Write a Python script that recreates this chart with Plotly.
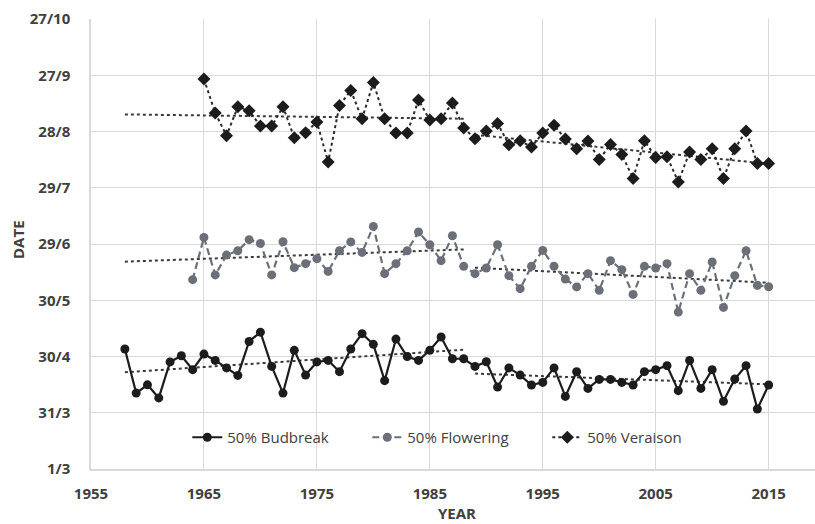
import numpy as np
import plotly.graph_objects as go

# Phenology dates expressed as day of year (1 Mar = 60)
budbreak_years = list(range(1958, 2016))
budbreak_doy = [
    124.0, 100.5, 104.9, 97.9, 117.1, 120.4, 113.0, 121.3, 117.9, 113.9,
    109.9, 128.0, 133.0, 114.7, 100.5, 123.3, 110.1, 117.1, 117.9, 111.9,
    124.0, 132.2, 126.5, 107.1, 129.3, 120.0, 117.9, 123.3, 130.4, 118.8,
    118.8, 114.7, 117.2, 103.7, 113.9, 110.1, 104.8, 106.2, 113.9, 98.7,
    111.9, 103.0, 107.8, 107.8, 106.2, 104.8, 111.9, 113.0, 115.1, 101.8,
    117.9, 103.0, 113.0, 96.1, 108.0, 115.1, 92.0, 104.8,
]

flowering_years = list(range(1964, 2016))
flowering_doy = [
    161.0, 183.5, 163.5, 174.1, 176.4, 182.3, 180.3, 163.5, 181.2, 167.4,
    169.5, 172.2, 165.4, 176.4, 181.1, 175.5, 189.4, 164.2, 169.5, 176.4,
    186.4, 179.6, 171.1, 184.4, 168.1, 164.2, 167.2, 179.6, 163.1, 156.2,
    168.1, 176.6, 168.1, 161.3, 157.1, 164.2, 155.3, 171.1, 166.3, 153.1,
    168.1, 167.2, 169.5, 143.7, 164.2, 155.3, 170.4, 146.2, 163.1, 176.4,
    157.9, 157.2,
]

veraison_years = list(range(1965, 2016))
veraison_doy = [
    268.0, 249.9, 237.8, 253.2, 251.1, 242.9, 242.9, 253.2, 236.7, 239.4,
    245.1, 223.7, 253.9, 261.9, 246.8, 266.2, 246.8, 239.2, 239.2, 256.8,
    246.1, 246.8, 255.2, 241.9, 236.2, 240.3, 244.3, 233.0, 235.1, 231.7,
    239.2, 243.3, 236.0, 230.8, 234.9, 225.1, 233.1, 227.8, 215.0, 235.1,
    226.2, 226.6, 213.1, 229.1, 225.1, 230.8, 215.0, 230.8, 240.3, 223.0,
    223.0,
]

# Two trend periods
period_1 = (1958, 1988)
period_2 = (1989, 2015)

tick_days = [60, 90, 120, 150, 180, 210, 240, 270, 300]
tick_labels = ["1/3", "31/3", "30/4", "30/5", "29/6", "29/7", "28/8", "27/9", "27/10"]
x_ticks = [1955, 1965, 1975, 1985, 1995, 2005, 2015]

FONT = "Open Sans"
TEXT = "#404040"
GRID = "#d9d9d9"
W, H = 815, 524
M_L, M_R, M_T, M_B = 91, 0, 19, 55

fig = go.Figure()


def add_trend(years, values, span):
    yrs = np.array(years, dtype=float)
    vals = np.array(values, dtype=float)
    lo, hi = span
    mask = (yrs >= lo) & (yrs <= hi)
    slope, intercept = np.polyfit(yrs[mask], vals[mask], 1)
    xs = np.array([lo, hi], dtype=float)
    fig.add_trace(go.Scatter(
        x=xs, y=slope * xs + intercept, mode="lines",
        line=dict(color="#3a3a3a", width=2, dash="dot"),
        showlegend=False, hoverinfo="skip",
    ))


for yrs, vals in [(budbreak_years, budbreak_doy),
                  (flowering_years, flowering_doy),
                  (veraison_years, veraison_doy)]:
    add_trend(yrs, vals, period_1)
    add_trend(yrs, vals, period_2)

fig.add_trace(go.Scatter(
    x=budbreak_years, y=budbreak_doy, mode="lines+markers", name="50% Budbreak",
    line=dict(color="#1c1c1c", width=2.2),
    marker=dict(symbol="circle", size=9, color="#1c1c1c"),
))
fig.add_trace(go.Scatter(
    x=flowering_years, y=flowering_doy, mode="lines+markers", name="50% Flowering",
    line=dict(color="#6b6f78", width=2.2, dash="7px,4px"),
    marker=dict(symbol="circle", size=9, color="#6b6f78"),
))
fig.add_trace(go.Scatter(
    x=veraison_years, y=veraison_doy, mode="lines+markers", name="50% Veraison",
    line=dict(color="#2a2a2a", width=2, dash="dot"),
    marker=dict(symbol="diamond", size=10, color="#1c1c1c"),
))

plot_w = W - M_L - M_R
plot_h = H - M_T - M_B
title_font = dict(family=FONT, size=15, color=TEXT, weight="bold")

fig.update_layout(
    width=W, height=H,
    margin=dict(l=M_L, r=M_R, t=M_T, b=M_B),
    paper_bgcolor="white", plot_bgcolor="white",
    font=dict(family=FONT, color=TEXT, size=14),
    showlegend=True,
    legend=dict(
        orientation="h", x=0.133, xanchor="left", y=0.07, yanchor="middle",
        bgcolor="rgba(0,0,0,0)", font=dict(family=FONT, size=15, color=TEXT),
        entrywidth=135, entrywidthmode="pixels",
    ),
    annotations=[
        # axis titles
        dict(text="YEAR", xref="paper", yref="paper",
             x=(457 - M_L) / plot_w, y=-(513 - (H - M_B)) / plot_h,
             xanchor="center", yanchor="middle", showarrow=False, font=title_font),
        dict(text="DATE", xref="paper", yref="paper",
             x=-(M_L - 18) / plot_w, y=((H - M_B) - 240) / plot_h,
             xanchor="center", yanchor="middle", textangle=-90,
             showarrow=False, font=title_font),
    ],
)

fig.update_xaxes(
    range=[1955, 1955 + plot_w / 11.294],
    tickmode="array", tickvals=x_ticks, ticktext=[str(v) for v in x_ticks],
    showgrid=True, gridcolor=GRID, gridwidth=1,
    showline=True, linecolor=GRID, linewidth=1.5,
    zeroline=False, ticks="", ticklabelstandoff=10,
    tickfont=dict(family=FONT, size=15, color=TEXT, weight="bold"),
)
fig.update_yaxes(
    range=[60, 300],
    tickmode="array", tickvals=tick_days, ticktext=tick_labels,
    showgrid=True, gridcolor=GRID, gridwidth=1,
    showline=True, linecolor=GRID, linewidth=1.5,
    zeroline=False, ticks="", ticklabelstandoff=16,
    tickfont=dict(family=FONT, size=15, color=TEXT, weight="bold"),
)

fig.write_html("out.html")
